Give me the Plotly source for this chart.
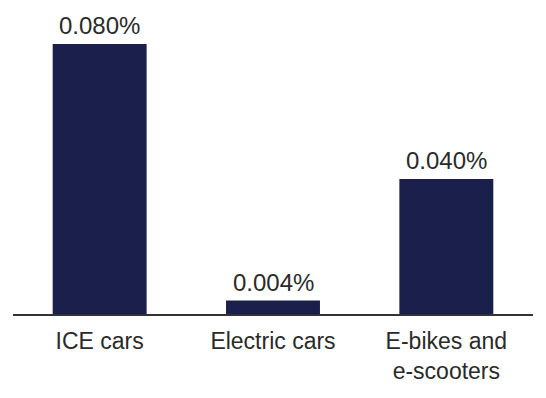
import plotly.graph_objects as go

categories = ["ICE cars", "Electric cars", "E-bikes and<br>e-scooters"]
values = [0.080, 0.004, 0.040]
labels = ["0.080%", "0.004%", "0.040%"]

bar_color = "#1b1f4b"
text_color = "#2a2a2a"
font_family = "Liberation Sans, Arial, sans-serif"

fig = go.Figure(
    go.Bar(
        x=categories,
        y=values,
        marker=dict(color=bar_color, line=dict(width=0)),
        width=0.542,
        hoverinfo="skip",
    )
)

for c, v, t in zip(categories, values, labels):
    fig.add_annotation(
        x=c, y=v, text=t, showarrow=False, yanchor="bottom", yshift=3,
        font=dict(family=font_family, size=24, color=text_color),
    )

# page body has an 8px margin, so the figure is sized to fit the remaining area
fig.update_layout(
    width=538,
    height=390,
    margin=dict(l=5, r=13, t=12, b=84, autoexpand=False),
    paper_bgcolor="white",
    plot_bgcolor="white",
    showlegend=False,
    font=dict(family=font_family, size=23, color=text_color),
    xaxis=dict(
        automargin=False,
        showline=True, linecolor="#333333", linewidth=1.5,
        showgrid=False, ticks="outside", ticklen=6, tickcolor="rgba(0,0,0,0)",
        tickfont=dict(size=23, color=text_color),
    ),
    yaxis=dict(
        automargin=False,
        range=[0, 0.08711], visible=False, showgrid=False, zeroline=False,
    ),
)

fig.write_html("out.html")
